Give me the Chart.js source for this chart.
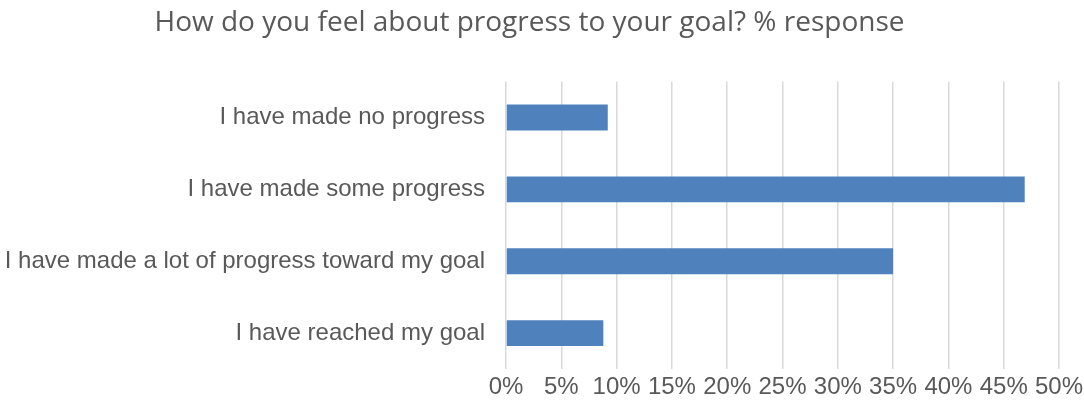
<!DOCTYPE html>
<html>
<head>
<meta charset="utf-8">
<script src="https://cdn.jsdelivr.net/npm/chart.js@4/dist/chart.umd.min.js"></script>
<style>
  html, body { margin: 0; padding: 0; background: #ffffff; }
  #wrap { width: 1084px; height: 406px; }
</style>
</head>
<body>
<div id="wrap"><canvas id="chart" width="1084" height="406"></canvas></div>
<script>
// Survey answers and share of respondents (%)
const categories = [
  'I have made no progress',
  'I have made some progress',
  'I have made a lot of progress toward my goal',
  'I have reached my goal'
];
const responsePct = [9.2, 46.9, 35.0, 8.8];
const axisMax = 50;
const axisStep = 5;
const titleText = 'How do you feel about progress to your goal? % response';

const textColor = '#595959';
const labelFont = { family: "'Liberation Sans', Arial, sans-serif", size: 24 };

new Chart(document.getElementById('chart'), {
  type: 'bar',
  data: {
    labels: categories,
    datasets: [{
      data: responsePct,
      backgroundColor: '#4f81bd',
      borderWidth: 0,
      categoryPercentage: 1,
      barPercentage: 0.36
    }]
  },
  options: {
    indexAxis: 'y',
    responsive: false,
    animation: false,
    layout: { padding: { left: 0, right: 25, top: 0, bottom: 0 } },
    plugins: {
      legend: { display: false },
      tooltip: { enabled: false },
      title: {
        display: true,
        text: titleText,
        color: textColor,
        font: { family: "'Open Sans', sans-serif", size: 28, weight: 'normal' },
        padding: { top: 6, bottom: 42 }
      }
    },
    scales: {
      x: {
        min: 0,
        max: axisMax,
        ticks: {
          stepSize: axisStep,
          color: textColor,
          font: labelFont,
          padding: 4,
          maxRotation: 0,
          callback: v => v + '%'
        },
        grid: { color: '#d9d9d9', lineWidth: 1.5, drawTicks: false },
        border: { display: false },
        afterFit: s => {
          s.height = 37;
          // the end labels may hang past the plot edge; keep the fixed plot width
          s.paddingLeft = 0;
          s.paddingRight = 0;
        }
      },
      y: {
        ticks: { color: textColor, font: labelFont, padding: 21 },
        grid: { display: false, drawTicks: false },
        border: { display: false },
        afterFit: s => { s.width = 506; }
      }
    }
  }
});
</script>
</body>
</html>
